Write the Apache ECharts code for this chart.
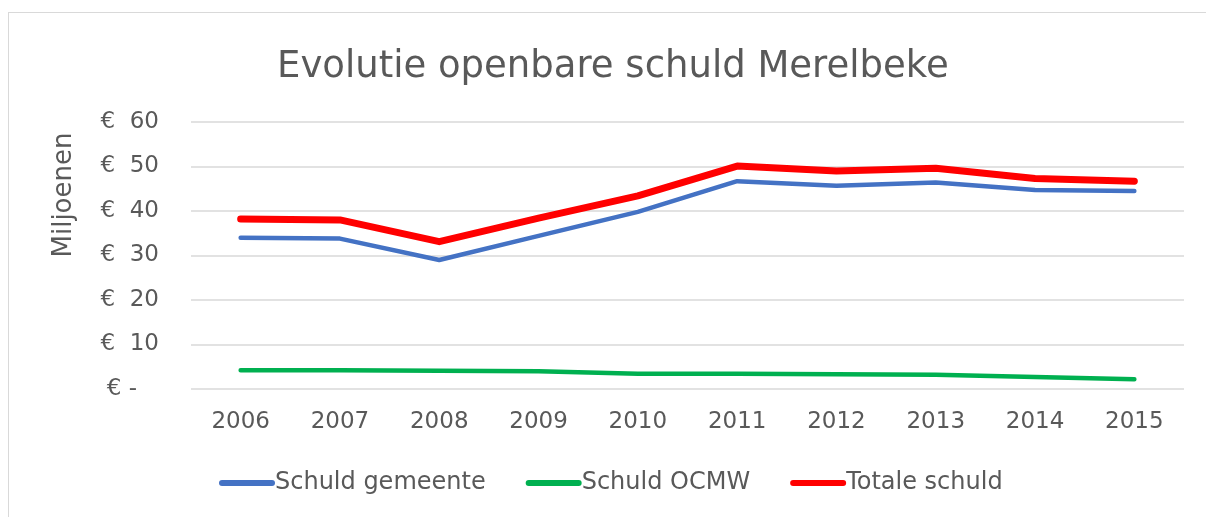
<!DOCTYPE html>
<html>
<head>
<meta charset="utf-8">
<style>
  html, body { margin: 0; padding: 0; background: #fff; overflow: hidden; }
  #frame { position: absolute; left: 8px; top: 12px; width: 1220px; height: 530px; border: 1px solid #d9d9d9; }
  #main { position: absolute; left: 0; top: 0; width: 1206px; height: 517px; }
</style>
<script src="https://cdn.jsdelivr.net/npm/echarts@6/dist/echarts.min.js"></script>
</head>
<body>
<div id="frame"></div>
<div id="main"></div>
<script>
// jaren en schuld (miljoen euro)
var jaren = ['2006', '2007', '2008', '2009', '2010', '2011', '2012', '2013', '2014', '2015'];
var schuldGemeente = [34.0, 33.8, 29.0, 34.4, 39.8, 46.7, 45.7, 46.4, 44.7, 44.5];
var schuldOCMW = [4.2, 4.2, 4.1, 4.0, 3.4, 3.4, 3.3, 3.2, 2.7, 2.2];
var totaleSchuld = [38.2, 38.0, 33.1, 38.4, 43.4, 50.1, 49.0, 49.6, 47.3, 46.7];
var yTicks = [0, 10, 20, 30, 40, 50, 60];

var myChart = echarts.init(document.getElementById('main'));
var tekst = '#595959';
var font = 'DejaVu Sans';
var balk = 'path://M3,0 L53,0 A3,3 0 0 1 53,6 L3,6 A3,3 0 0 1 3,0 Z';

var option = {
    backgroundColor: 'transparent',
    animation: false,
    title: {
        text: 'Evolutie openbare schuld Merelbeke',
        left: 272,
        top: 44,
        textStyle: { color: tekst, fontSize: 37, fontWeight: 'normal', fontFamily: font }
    },
    // as-titel "Miljoenen" staat bij Excel niet in het midden
    graphic: [{
        type: 'text',
        x: 64,
        y: 195,
        rotation: Math.PI / 2,
        style: {
            text: 'Miljoenen', fill: tekst, fontSize: 26, fontFamily: font,
            align: 'center', verticalAlign: 'middle'
        }
    }],
    legend: {
        left: 214,
        top: 466,
        itemWidth: 56,
        itemHeight: 6,
        itemGap: 40,
        textStyle: { color: tekst, fontSize: 24, fontFamily: font, padding: [0, 0, 0, -5] },
        data: [
            { name: 'Schuld gemeente', icon: balk },
            { name: 'Schuld OCMW', icon: balk },
            { name: 'Totale schuld', icon: balk }
        ]
    },
    grid: { left: 191, right: 22, top: 122, bottom: 128 },
    xAxis: {
        type: 'category',
        data: jaren,
        axisLine: { show: false },
        axisTick: { show: false },
        axisLabel: { color: tekst, fontSize: 23, fontFamily: font, margin: 22 }
    },
    yAxis: {
        type: 'value',
        min: yTicks[0],
        max: yTicks[yTicks.length - 1],
        interval: 10,
        axisLine: { show: false },
        axisTick: { show: false },
        splitLine: { lineStyle: { color: '#d9d9d9', width: 1.5 } },
        axisLabel: {
            color: tekst, fontSize: 23, fontFamily: font, margin: 32,
            formatter: function (v) { return v === 0 ? '€ -   ' : '€  ' + v; }
        }
    },
    series: [
        {
            name: 'Schuld gemeente',
            type: 'line',
            data: schuldGemeente,
            symbol: 'none',
            color: '#4472C4',
            lineStyle: { width: 4.5, cap: 'round', join: 'round' }
        },
        {
            name: 'Schuld OCMW',
            type: 'line',
            data: schuldOCMW,
            symbol: 'none',
            color: '#00B050',
            lineStyle: { width: 4.5, cap: 'round', join: 'round' }
        },
        {
            name: 'Totale schuld',
            type: 'line',
            data: totaleSchuld,
            symbol: 'none',
            color: '#FF0000',
            lineStyle: { width: 7, cap: 'round', join: 'round' }
        }
    ]
};

myChart.setOption(option);
</script>
</body>
</html>
